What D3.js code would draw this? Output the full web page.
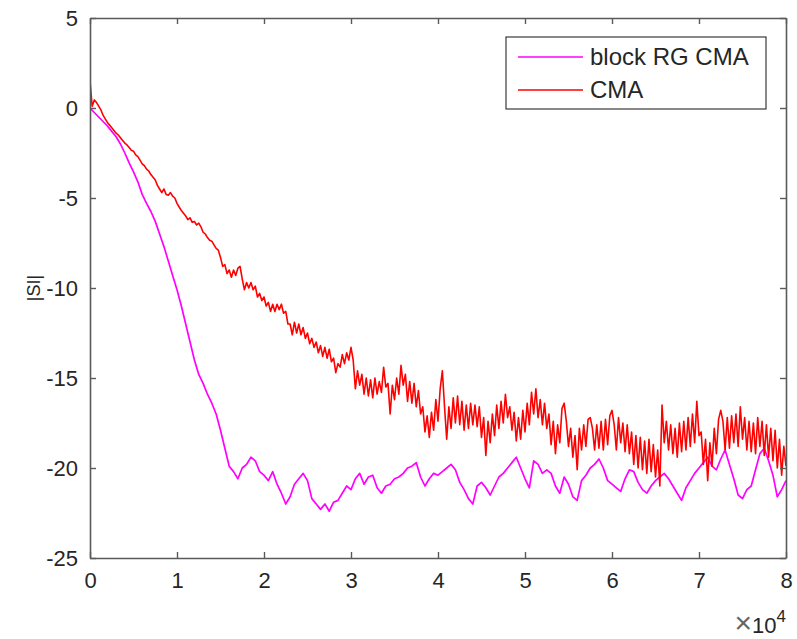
<!DOCTYPE html>
<html>
<head>
<meta charset="utf-8">
<script src="https://cdn.jsdelivr.net/npm/d3@7"></script>
<style>
  html, body { margin: 0; padding: 0; background: #fff; }
  svg { display: block; }
  text { font-family: "Liberation Sans", Arial, Helvetica, sans-serif; fill: #262626; }
</style>
</head>
<body>
<svg id="chart" width="797" height="639"></svg>
<script>
// Iterations are sampled on a regular grid (in units of 10^4 iterations)
const rgStep = 0.05;     // block RG CMA sample spacing
const cmaStep = 0.025;   // CMA sample spacing

// |SI| in dB, block RG CMA
const rgValues = [
  0, -0.25, -0.5, -0.75, -1.0, -1.3, -1.6, -2.0, -2.5, -3.05,
  -3.55, -4.1, -4.8, -5.3, -5.75, -6.3, -7.0, -7.7, -8.5, -9.3,
  -10.1, -11.0, -12.0, -13.0, -14.0, -14.8, -15.3, -15.9, -16.4, -17.0,
  -17.9, -18.9, -19.9, -20.2, -20.6, -20.0, -19.8, -19.4, -19.6, -20.2,
  -20.4, -20.7, -20.2, -20.9, -21.4, -22.0, -21.6, -20.9, -20.6, -20.3,
  -20.7, -21.7, -22.0, -22.3, -22.0, -22.4, -21.9, -21.8, -21.4, -21.0,
  -21.2, -20.6, -20.3, -20.9, -20.5, -20.4, -21.1, -21.4, -21.0, -20.9,
  -20.6, -20.5, -20.3, -20.0, -19.9, -19.7, -20.5, -21.0, -20.6, -20.3,
  -20.4, -20.2, -20.0, -19.8, -20.1, -20.8, -21.2, -21.7, -22.0, -21.0,
  -20.8, -21.1, -21.5, -21.0, -20.5, -20.3, -20.0, -19.7, -19.4, -20.0,
  -20.6, -21.1, -19.6, -19.8, -20.3, -20.1, -20.3, -21.0, -21.4, -20.5,
  -20.9, -21.6, -21.8, -20.7, -20.4, -20.0, -19.8, -19.5, -20.0, -20.7,
  -20.9, -21.1, -21.3, -20.6, -20.1, -20.2, -20.8, -21.2, -21.4, -21.0,
  -20.7, -20.5, -20.3, -20.6, -21.0, -21.4, -21.8, -21.1, -20.7, -20.3,
  -20.0, -19.7, -19.4, -19.9, -20.1, -19.5, -19.0, -19.8, -20.6, -21.5,
  -21.7, -21.2, -21.0, -20.1, -19.2, -18.9, -19.6, -20.4, -21.6, -21.2,
  -20.7
];

// |SI| in dB, CMA
const cmaValues = [
  // 0 .. 1.475
  1.5, 0.1, 0.45, 0.3, 0.1, -0.1, -0.4, -0.6, -0.8, -0.95,
  -1.1, -1.25, -1.4, -1.5, -1.65, -1.8, -1.95, -2.05, -2.2, -2.35,
  -2.4, -2.6, -2.7, -2.9, -3.1, -3.2, -3.4, -3.5, -3.7, -3.85,
  -4.0, -4.3, -4.5, -4.7, -4.5, -4.8, -4.85, -4.7, -4.9, -5.0,
  -5.3, -5.5, -5.7, -5.85, -6.0, -6.2, -6.1, -6.35, -6.3, -6.5,
  -6.4, -6.6, -6.9, -7.0, -7.2, -7.35, -7.4, -7.6, -7.8, -7.9,
  // 1.5 .. 3.0
  -8.3, -8.8, -8.7, -9.2, -9.0, -9.4, -9.0, -9.3, -8.9, -8.8,
  -9.5, -10.1, -9.7, -10.0, -9.7, -10.1, -9.9, -10.5, -10.3, -10.7,
  -10.5, -11.0, -10.8, -11.3, -10.9, -11.3, -10.9, -11.2, -10.9, -11.4,
  -11.3, -12.0, -12.0, -12.6, -11.9, -12.5, -12.0, -12.6, -12.2, -12.8,
  -12.5, -13.1, -12.8, -13.3, -13.0, -13.6, -13.2, -13.8, -13.3, -13.9,
  -13.4, -14.1, -13.9, -14.7, -14.2, -14.4, -13.7, -14.2, -13.6, -14.0,
  -13.3,
  // 3.025 .. 8.0
  -14.0, -15.6, -14.6, -15.4, -14.8, -15.9, -15.0, -16.0,
  -15.1, -16.1, -15.0, -15.9, -15.2, -15.8, -14.4, -15.5,
  -15.3, -17.0, -15.4, -16.2, -15.0, -15.9, -14.3, -15.4,
  -14.8, -16.3, -15.2, -16.4, -15.3, -16.6, -15.7, -17.0,
  -16.6, -18.0, -17.1, -18.3, -16.9, -17.9, -16.2, -17.4,
  -15.6, -14.6, -16.6, -18.4, -16.6, -17.8, -16.1, -17.5,
  -16.0, -17.6, -16.3, -17.9, -16.5, -17.8, -16.4, -17.6,
  -16.5, -17.7, -16.6, -18.3, -17.2, -19.3, -17.4, -18.6,
  -17.0, -18.2, -16.5, -17.8, -16.3, -17.5, -15.9, -17.2,
  -16.6, -17.9, -16.9, -18.5, -17.2, -18.4, -16.8, -18.0,
  -16.4, -17.6, -15.8, -17.0, -15.6, -17.2, -16.2, -17.6,
  -16.4, -17.8, -17.0, -18.7, -17.4, -19.2, -17.6, -18.6,
  -16.7, -16.4, -17.4, -18.8, -17.8, -19.4, -18.2, -20.1,
  -17.8, -19.0, -17.6, -18.8, -17.3, -17.2, -17.8, -19.0,
  -17.6, -18.9, -17.4, -19.0, -17.3, -18.7, -17.1, -16.8,
  -17.6, -19.0, -17.2, -18.6, -17.5, -19.1, -17.6, -19.2,
  -18.0, -19.8, -18.2, -20.0, -18.3, -20.1, -18.5, -20.3,
  -18.4, -20.2, -18.7, -20.5, -19.0, -21.0, -16.5, -18.6,
  -17.4, -19.0, -17.6, -19.2, -17.8, -19.4, -17.5, -19.1,
  -17.4, -19.0, -17.2, -18.8, -17.0, -18.6, -16.3, -18.2,
  -18.0, -19.8, -18.4, -20.7, -18.6, -19.9, -17.8, -19.2,
  -17.3, -16.8, -17.4, -19.0, -17.2, -18.9, -17.1, -18.6,
  -17.0, -18.8, -16.6, -18.4, -17.2, -19.0, -17.4, -19.1,
  -17.5, -19.2, -17.2, -18.8, -17.4, -19.3, -17.6, -19.4,
  -17.8, -19.6, -17.9, -20.0, -18.4, -20.4, -18.8, -19.9
];

const xTicks = [0, 1, 2, 3, 4, 5, 6, 7, 8];          // x 10^4 iterations
const yTicks = [5, 0, -5, -10, -15, -20, -25];
const seriesNames = ["block RG CMA", "CMA"];
const seriesColors = ["#ff00ff", "#ff0000"];

const svg = d3.select("#chart");
const plotLeft = 90, plotRight = 786, plotTop = 18, plotBottom = 558;

const x = d3.scaleLinear().domain([0, 8]).range([plotLeft, plotRight]);
const y = d3.scaleLinear().domain([-25, 5]).range([plotBottom, plotTop]);

const rgData = rgValues.map((v, i) => [i * rgStep, v]);
const cmaData = cmaValues.map((v, i) => [i * cmaStep, v]);

svg.append("defs").append("clipPath").attr("id", "plotClip")
  .append("rect").attr("x", plotLeft).attr("y", plotTop)
  .attr("width", plotRight - plotLeft).attr("height", plotBottom - plotTop);

const line = d3.line().x(d => x(d[0])).y(d => y(d[1]));

const plot = svg.append("g").attr("clip-path", "url(#plotClip)");
plot.append("path").datum(rgData)
  .attr("d", line).attr("fill", "none")
  .attr("stroke", seriesColors[0]).attr("stroke-width", 1.7)
  .attr("stroke-linejoin", "round");
plot.append("path").datum(cmaData)
  .attr("d", line).attr("fill", "none")
  .attr("stroke", seriesColors[1]).attr("stroke-width", 1.6)
  .attr("stroke-linejoin", "round");

// Axes: ticks point inward on all four sides, box closed
const axisColor = "#5a5a5a";
const tickLen = 6;
const plainNum = d => String(d);   // plain hyphen-minus, as in the printed labels
const styleAxis = g => {
  g.select(".domain").attr("stroke", axisColor).attr("stroke-width", 1.6);
  g.selectAll(".tick line").attr("stroke", axisColor).attr("stroke-width", 1.4);
  g.selectAll(".tick text").attr("fill", "#262626")
    .style("font-size", "22px").style("font-family", "'Liberation Sans', Arial, sans-serif");
};

svg.append("g").attr("transform", `translate(0,${plotBottom})`)
  .call(d3.axisBottom(x).tickValues(xTicks).tickSizeInner(-tickLen).tickSizeOuter(0)
        .tickPadding(14).tickFormat(plainNum))
  .call(styleAxis);
svg.append("g").attr("transform", `translate(0,${plotTop})`)
  .call(d3.axisTop(x).tickValues(xTicks).tickSizeInner(-tickLen).tickSizeOuter(0)
        .tickFormat(""))
  .call(styleAxis);
svg.append("g").attr("transform", `translate(${plotLeft},0)`)
  .call(d3.axisLeft(y).tickValues(yTicks).tickSizeInner(-tickLen).tickSizeOuter(0)
        .tickPadding(12).tickFormat(plainNum))
  .call(styleAxis);
svg.append("g").attr("transform", `translate(${plotRight},0)`)
  .call(d3.axisRight(y).tickValues(yTicks).tickSizeInner(-tickLen).tickSizeOuter(0)
        .tickFormat(""))
  .call(styleAxis);

// Exponent note under the x axis
const expo = svg.append("text").attr("x", plotRight).attr("y", 633)
  .attr("text-anchor", "end").style("font-size", "22px").attr("fill", "#444");
expo.append("tspan").style("font-size", "30px").attr("fill", "#666").text("\u00d7");
expo.append("tspan").text("10");
expo.append("tspan").attr("dy", -11).style("font-size", "17px").text("4");

// y label
svg.append("text")
  .attr("transform", `translate(40,${(plotTop + plotBottom) / 2}) rotate(-90)`)
  .attr("text-anchor", "middle")
  .style("font-size", "18px")
  .text("|SI|");

// Legend
const legend = svg.append("g");
legend.append("rect").attr("x", 506).attr("y", 37).attr("width", 260).attr("height", 72)
  .attr("fill", "#fff").attr("stroke", "#3a3a3a").attr("stroke-width", 1.2);
seriesNames.forEach((name, i) => {
  const ly = 57 + i * 33;
  legend.append("line").attr("x1", 518).attr("x2", 583).attr("y1", ly).attr("y2", ly)
    .attr("stroke", seriesColors[i]).attr("stroke-width", 1.6);
  legend.append("text").attr("x", 590).attr("y", ly + 8)
    .style("font-size", "24px").text(name);
});
</script>
</body>
</html>
